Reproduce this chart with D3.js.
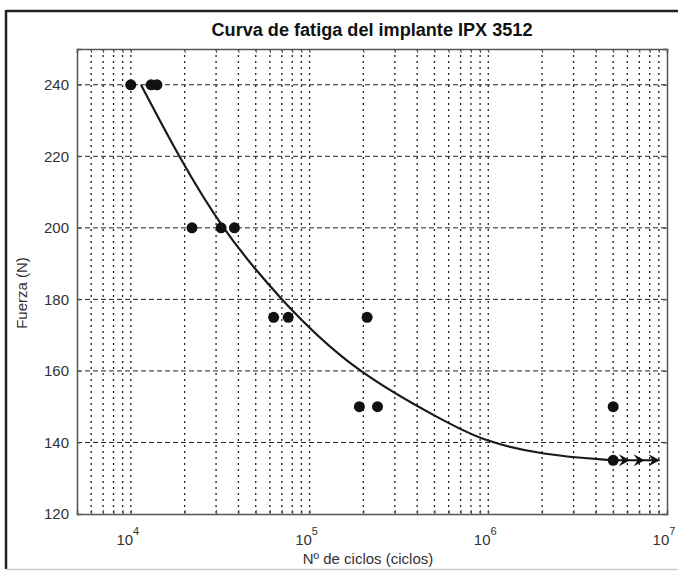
<!DOCTYPE html>
<html>
<head>
<meta charset="utf-8">
<script src="https://cdn.jsdelivr.net/npm/d3@7"></script>
<style>
  html, body { margin: 0; padding: 0; background: #fff; }
  svg { display: block; }
  text { font-family: "Liberation Sans", Arial, sans-serif; fill: #333; }
</style>
</head>
<body>
<div id="root"></div>
<script>
// test results (cycles, force)
const pointsN = [1e4, 1.3e4, 1.4e4, 2.2e4, 3.2e4, 3.8e4, 6.3e4, 7.6e4, 2.1e5, 1.9e5, 2.4e5, 5e6, 5e6];
const pointsF = [240, 240, 240, 200, 200, 200, 175, 175, 175, 150, 150, 150, 135];

// fitted fatigue curve
const curveN = [1.14e4, 1.85e4, 3.2e4, 6.8e4, 1.75e5, 5.9e5, 9.3e5, 2e6, 5e6];
const curveF = [240, 220, 200, 180, 160, 145.5, 140.5, 136.5, 135];

// run-outs (arrow tips)
const runoutN = [6.2e6, 7.5e6, 9.1e6];
const runoutF = 135;

const yTicks = [120, 140, 160, 180, 200, 220, 240];
const xDecades = [1e4, 1e5, 1e6, 1e7];
const xExp = ["4", "5", "6", "7"];

const W = 678, H = 571;
const margin = {top: 49, right: 11, bottom: 57, left: 77};

const svg = d3.select("#root").append("svg")
    .attr("width", W)
    .attr("height", H);

// outer figure frame
svg.append("line").attr("x1", 6).attr("x2", W).attr("y1", 11).attr("y2", 11)
    .attr("stroke", "#222").attr("stroke-width", 2.5);
svg.append("line").attr("x1", 6).attr("x2", 6).attr("y1", 10).attr("y2", 569)
    .attr("stroke", "#222").attr("stroke-width", 2.5);
svg.append("line").attr("x1", 6).attr("x2", W).attr("y1", 569.5).attr("y2", 569.5)
    .attr("stroke", "#ccc").attr("stroke-width", 1.5);

const x = d3.scaleLog().domain([5e3, 1e7]).range([margin.left, W - margin.right]);
const y = d3.scaleLinear().domain([120, 250]).range([H - margin.bottom, margin.top]);

const allX = x.ticks().filter(d => d > 5e3 && d < 1e7);

// grid
const grid = svg.append("g").attr("class", "grid");
grid.selectAll("line.vx")
    .data(allX)
    .enter()
    .append("line")
    .attr("class", "vx")
    .attr("x1", d => x(d)).attr("x2", d => x(d))
    .attr("y1", y(250)).attr("y2", y(120))
    .attr("stroke", "#222")
    .attr("stroke-width", 1.3)
    .attr("stroke-dasharray", "2,4");
grid.selectAll("line.hy")
    .data(yTicks.filter(d => d > 120))
    .enter()
    .append("line")
    .attr("class", "hy")
    .attr("x1", x(5e3)).attr("x2", x(1e7))
    .attr("y1", d => y(d)).attr("y2", d => y(d))
    .attr("stroke", "#222")
    .attr("stroke-width", 1)
    .attr("stroke-dasharray", "5,3");

// axes (ticks inside, like matlab)
const axisColor = "#555";
const xb = svg.append("g")
    .attr("transform", `translate(0,${y(120)})`)
    .call(d3.axisBottom(x).tickValues(allX.concat([1e7])).tickSize(-4).tickFormat(""));
const xt = svg.append("g")
    .attr("transform", `translate(0,${y(250)})`)
    .call(d3.axisTop(x).tickValues(allX).tickSize(-4).tickFormat(""));
const yl = svg.append("g")
    .attr("transform", `translate(${x(5e3)},0)`)
    .call(d3.axisLeft(y).tickValues(yTicks).tickSize(-4).tickPadding(8));
const yr = svg.append("g")
    .attr("transform", `translate(${x(1e7)},0)`)
    .call(d3.axisRight(y).tickValues(yTicks).tickSize(-4).tickFormat(""));

[xb, xt, yl, yr].forEach(g => {
    g.select(".domain").attr("stroke", axisColor).attr("stroke-width", 1.5);
    g.selectAll(".tick line").attr("stroke", axisColor);
});
yl.selectAll(".tick text")
    .style("font-size", "15px")
    .attr("fill", "#333");

// decade labels 10^n
const xl = svg.append("g");
xDecades.forEach((d, i) => {
    const t = xl.append("text")
        .attr("x", x(d) - 3)
        .attr("y", 545)
        .attr("text-anchor", "middle")
        .style("font-size", "15px");
    t.append("tspan").text("10");
    t.append("tspan").attr("dy", -10).style("font-size", "11px").text(xExp[i]);
});

// fitted curve
const line = d3.line()
    .x((d, i) => x(curveN[i]))
    .y((d, i) => y(curveF[i]))
    .curve(d3.curveBasis);
svg.append("path")
    .datum(curveN)
    .attr("d", line)
    .attr("fill", "none")
    .attr("stroke", "#1a1a1a")
    .attr("stroke-width", 2.2);

// run-out line + arrows
svg.append("line")
    .attr("x1", x(5e6)).attr("x2", x(runoutN[runoutN.length - 1]))
    .attr("y1", y(runoutF)).attr("y2", y(runoutF))
    .attr("stroke", "#111").attr("stroke-width", 2);
svg.selectAll("path.arrow")
    .data(runoutN)
    .enter()
    .append("path")
    .attr("class", "arrow")
    .attr("transform", d => `translate(${x(d)},${y(runoutF)})`)
    .attr("d", "M0,0 L-11,-6 L-7,0 L-11,6 Z")
    .attr("fill", "#111");

// test points
svg.selectAll("circle.pt")
    .data(pointsN)
    .enter()
    .append("circle")
    .attr("class", "pt")
    .attr("cx", d => x(d))
    .attr("cy", (d, i) => y(pointsF[i]))
    .attr("r", 5.5)
    .attr("fill", "#111");

// title & labels
svg.append("text")
    .attr("x", (x(5e3) + x(1e7)) / 2)
    .attr("y", 36)
    .attr("text-anchor", "middle")
    .attr("textLength", 321)
    .attr("lengthAdjust", "spacingAndGlyphs")
    .style("font-family", "'Liberation Sans Narrow', 'Liberation Sans', Arial, sans-serif")
    .style("font-weight", "bold")
    .style("font-size", "18px")
    .style("fill", "#111")
    .text("Curva de fatiga del implante IPX 3512");

svg.append("text")
    .attr("x", 368)
    .attr("y", 564)
    .attr("text-anchor", "middle")
    .style("font-size", "15px")
    .text("Nº de ciclos (ciclos)");

svg.append("text")
    .attr("transform", "translate(27,293) rotate(-90)")
    .attr("text-anchor", "middle")
    .style("font-size", "15px")
    .text("Fuerza (N)");
</script>
</body>
</html>
